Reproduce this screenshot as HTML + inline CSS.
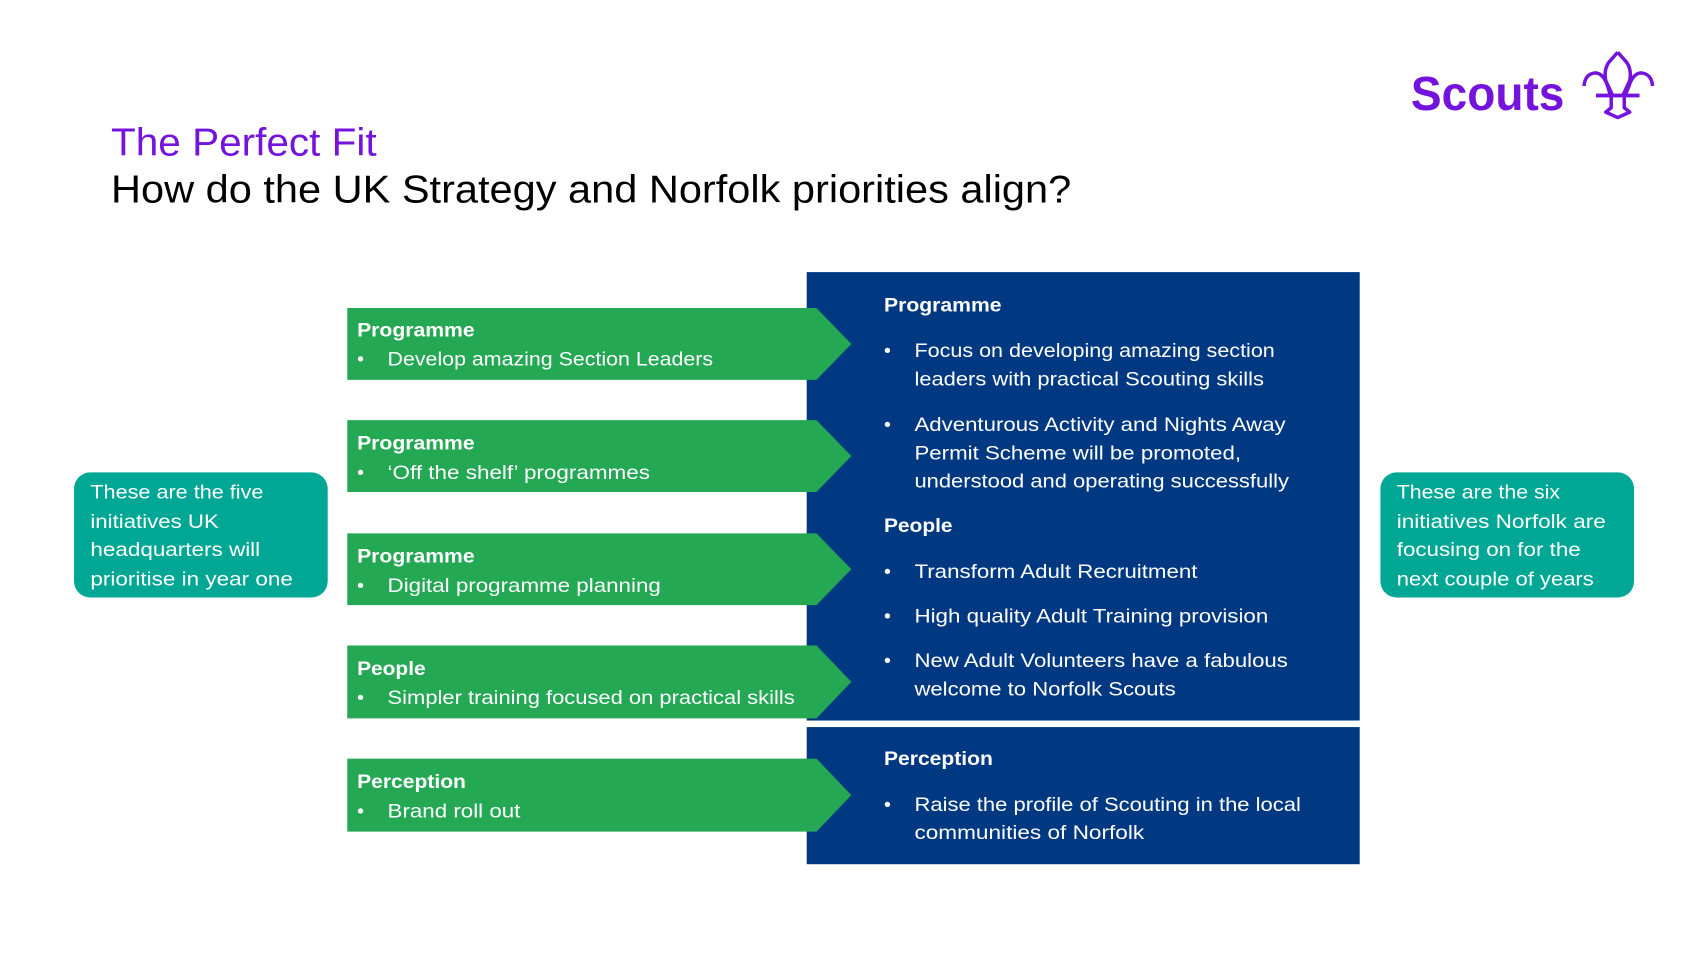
<!DOCTYPE html>
<html><head><meta charset="utf-8"><style>
html,body{margin:0;padding:0;background:#fff;}
svg{display:block;}
text{font-family:"Liberation Sans",sans-serif;}
.w{fill:#fff;font-size:18px;}
.b{font-weight:bold;}
</style></head><body>
<svg width="1707" height="960" viewBox="0 0 1568 882" preserveAspectRatio="none" xmlns="http://www.w3.org/2000/svg">
<rect width="1568" height="882" fill="#fff"/>
<!-- Logo -->
<text x="1296" y="101" font-size="44" font-weight="bold" fill="#7413dc" textLength="141" lengthAdjust="spacingAndGlyphs">Scouts</text>
<g transform="translate(7,0)">
<g fill="none" stroke="#7413dc" stroke-width="3.2" stroke-linejoin="round">
<path d="M1479 48 L1471 57 Q1466 64 1468 74 L1474 87 M1479 48 L1487 57 Q1492 64 1490 74 L1484 87"/>
<path d="M1448 79 Q1449 68 1458 67 Q1466 67 1470 80 L1472 87"/>
<path d="M1511 79 Q1510 68 1501 67 Q1493 67 1489 80 L1486 87"/>
<path d="M1473 89 L1473 99 L1468 103 L1479 108 L1490 103 L1485 99 L1485 89"/>
</g>
<rect x="1459" y="86" width="40" height="3.5" fill="#7413dc"/>
</g>
<!-- Titles -->
<text x="102" y="143" font-size="36" fill="#7413dc" textLength="244" lengthAdjust="spacingAndGlyphs">The Perfect Fit</text>
<text x="102" y="186" font-size="36" fill="#000" textLength="882" lengthAdjust="spacingAndGlyphs">How do the UK Strategy and Norfolk priorities align?</text>
<!-- Blue boxes -->
<rect x="741" y="250" width="508" height="412" fill="#003982"/>
<rect x="741" y="668" width="508" height="126" fill="#003982"/>
<!-- Green arrows -->
<g fill="#24a853">
<polygon points="319,283 750,283 782,316 750,349 319,349"/>
<polygon points="319,386 750,386 782,419 750,452 319,452"/>
<polygon points="319,490 750,490 782,523 750,556 319,556"/>
<polygon points="319,593 750,593 782,626.5 750,660 319,660"/>
<polygon points="319,697 750,697 782,730.5 750,764 319,764"/>
</g>
<!-- Green text -->
<g class="w">
<text x="328" y="309" class="b" textLength="108" lengthAdjust="spacingAndGlyphs">Programme</text>
<text x="328" y="336">•</text><text x="356" y="336" textLength="299" lengthAdjust="spacingAndGlyphs">Develop amazing Section Leaders</text>
<text x="328" y="413" class="b" textLength="108" lengthAdjust="spacingAndGlyphs">Programme</text>
<text x="328" y="440">•</text><text x="356" y="440" textLength="241" lengthAdjust="spacingAndGlyphs">‘Off the shelf’ programmes</text>
<text x="328" y="517" class="b" textLength="108" lengthAdjust="spacingAndGlyphs">Programme</text>
<text x="328" y="544">•</text><text x="356" y="544" textLength="251" lengthAdjust="spacingAndGlyphs">Digital programme planning</text>
<text x="328" y="620" class="b" textLength="63" lengthAdjust="spacingAndGlyphs">People</text>
<text x="328" y="647">•</text><text x="356" y="647" textLength="374" lengthAdjust="spacingAndGlyphs">Simpler training focused on practical skills</text>
<text x="328" y="724" class="b" textLength="100" lengthAdjust="spacingAndGlyphs">Perception</text>
<text x="328" y="751">•</text><text x="356" y="751" textLength="122" lengthAdjust="spacingAndGlyphs">Brand roll out</text>
</g>
<!-- Blue text -->
<g class="w">
<text x="812" y="286" class="b" textLength="108" lengthAdjust="spacingAndGlyphs">Programme</text>
<text x="812" y="328">•</text><text x="840" y="328" textLength="331" lengthAdjust="spacingAndGlyphs">Focus on developing amazing section</text>
<text x="840" y="354" textLength="321" lengthAdjust="spacingAndGlyphs">leaders with practical Scouting skills</text>
<text x="812" y="396">•</text><text x="840" y="396" textLength="341" lengthAdjust="spacingAndGlyphs">Adventurous Activity and Nights Away</text>
<text x="840" y="422" textLength="300" lengthAdjust="spacingAndGlyphs">Permit Scheme will be promoted,</text>
<text x="840" y="448" textLength="344" lengthAdjust="spacingAndGlyphs">understood and operating successfully</text>
<text x="812" y="489" class="b" textLength="63" lengthAdjust="spacingAndGlyphs">People</text>
<text x="812" y="531">•</text><text x="840" y="531" textLength="260" lengthAdjust="spacingAndGlyphs">Transform Adult Recruitment</text>
<text x="812" y="572">•</text><text x="840" y="572" textLength="325" lengthAdjust="spacingAndGlyphs">High quality Adult Training provision</text>
<text x="812" y="613">•</text><text x="840" y="613" textLength="343" lengthAdjust="spacingAndGlyphs">New Adult Volunteers have a fabulous</text>
<text x="840" y="639" textLength="240" lengthAdjust="spacingAndGlyphs">welcome to Norfolk Scouts</text>
<text x="812" y="703" class="b" textLength="100" lengthAdjust="spacingAndGlyphs">Perception</text>
<text x="812" y="745">•</text><text x="840" y="745" textLength="355" lengthAdjust="spacingAndGlyphs">Raise the profile of Scouting in the local</text>
<text x="840" y="771" textLength="211" lengthAdjust="spacingAndGlyphs">communities of Norfolk</text>
</g>
<!-- Teal boxes -->
<rect x="68" y="434" width="233" height="115" rx="15" fill="#00a794"/>
<rect x="1268" y="434" width="233" height="115" rx="15" fill="#00a794"/>
<g class="w">
<text x="83" y="458" textLength="159" lengthAdjust="spacingAndGlyphs">These are the five</text>
<text x="83" y="485" textLength="118" lengthAdjust="spacingAndGlyphs">initiatives UK</text>
<text x="83" y="511" textLength="156" lengthAdjust="spacingAndGlyphs">headquarters will</text>
<text x="83" y="538" textLength="186" lengthAdjust="spacingAndGlyphs">prioritise in year one</text>
<text x="1283" y="458" textLength="150" lengthAdjust="spacingAndGlyphs">These are the six</text>
<text x="1283" y="485" textLength="192" lengthAdjust="spacingAndGlyphs">initiatives Norfolk are</text>
<text x="1283" y="511" textLength="169" lengthAdjust="spacingAndGlyphs">focusing on for the</text>
<text x="1283" y="538" textLength="181" lengthAdjust="spacingAndGlyphs">next couple of years</text>
</g>
</svg>
</body></html>
